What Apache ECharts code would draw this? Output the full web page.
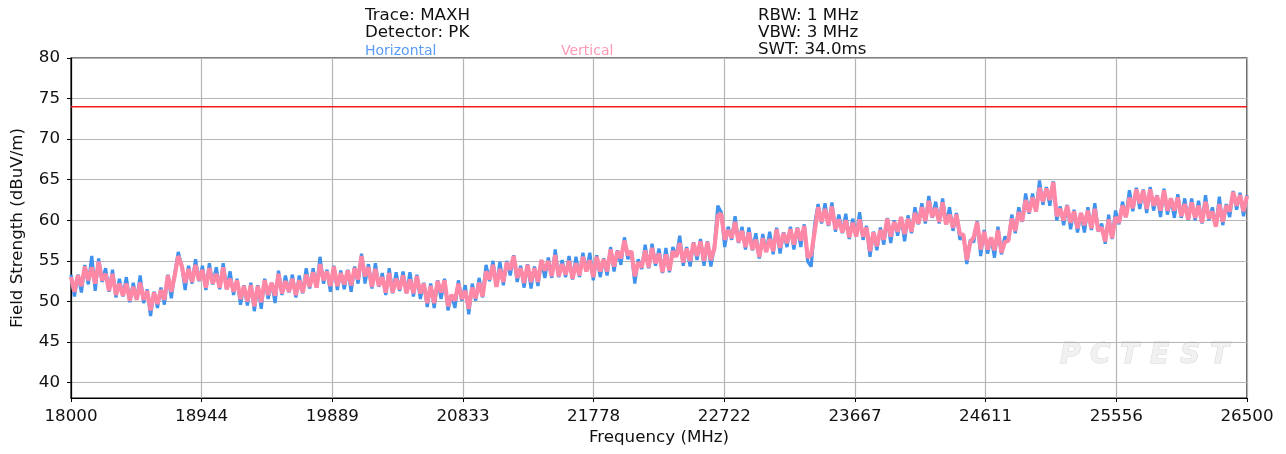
<!DOCTYPE html>
<html>
<head>
<meta charset="utf-8">
<script src="https://cdn.jsdelivr.net/npm/echarts@6/dist/echarts.min.js"></script>
<style>
  html, body { margin: 0; padding: 0; background: #ffffff; }
  #chart { width: 1286px; height: 454px; }
</style>
</head>
<body>
<div id="chart"></div>
<script>
// Sweep settings (MHz)
const startMHz = 18000;
const stopMHz = 26500;
const stepMHz = 25;
const xDivisions = 9;

// Limit line and y range (dBuV/m)
const limitLevel = 74;
const yMin = 38.1;
const yMax = 80;

// Header annotations
const headerLeft = ['Trace: MAXH', 'Detector: PK'];
const headerRight = ['RBW: 1 MHz', 'VBW: 3 MHz', 'SWT: 34.0ms'];
const legendNames = ['Horizontal', 'Vertical'];

// Max-hold peak traces, one value per 25 MHz from 18000 to 26500 MHz
const horizontal = [
  53.3, 50.6, 53.3, 51.1, 54.5, 52.1, 55.6, 51.3, 55.3, 52.4, 54.1, 51.2, 53.9, 50.5, 52.8, 50.6,
  53.0, 49.9, 52.3, 50.2, 53.2, 49.8, 51.5, 48.2, 51.2, 49.2, 51.7, 49.6, 53.3, 50.4, 53.4, 56.1,
  54.4, 51.4, 54.4, 52.2, 55.2, 52.5, 54.4, 51.4, 54.7, 52.1, 54.2, 51.5, 54.7, 51.5, 53.7, 50.8,
  52.8, 49.6, 52.0, 49.5, 52.3, 48.8, 52.0, 49.1, 52.8, 50.3, 52.3, 49.8, 53.8, 50.8, 53.2, 51.1,
  53.3, 50.5, 53.2, 51.0, 54.1, 51.6, 54.1, 51.7, 55.5, 52.2, 53.9, 51.2, 54.4, 51.4, 53.8, 51.5,
  53.9, 51.2, 54.3, 52.2, 55.9, 52.2, 54.6, 51.6, 54.7, 51.8, 53.5, 50.8, 54.1, 51.0, 53.6, 51.3,
  53.7, 51.0, 53.6, 50.6, 53.3, 50.3, 52.3, 49.3, 52.2, 49.2, 52.6, 50.3, 52.8, 48.9, 50.8, 49.2,
  52.6, 50.1, 52.0, 48.4, 52.2, 50.1, 52.9, 50.5, 54.5, 52.5, 55.0, 51.8, 54.9, 52.0, 55.0, 53.2,
  55.7, 52.4, 54.4, 51.7, 54.6, 51.6, 54.3, 51.9, 55.1, 52.9, 55.4, 52.9, 56.4, 53.0, 55.1, 53.0,
  55.6, 52.7, 55.5, 53.0, 56.0, 53.7, 56.0, 52.6, 55.7, 53.0, 55.3, 53.2, 56.7, 53.7, 56.3, 54.5,
  57.9, 55.2, 56.2, 52.2, 55.2, 54.0, 57.0, 54.1, 57.1, 54.4, 56.5, 53.5, 56.6, 53.6, 56.7, 55.5,
  58.1, 54.4, 56.7, 54.3, 57.3, 55.1, 57.7, 54.4, 57.4, 54.3, 56.7, 61.8, 61.0, 56.7, 59.2, 57.6,
  60.5, 57.2, 59.2, 56.4, 59.1, 56.3, 58.4, 55.3, 58.3, 56.1, 58.6, 55.8, 59.1, 55.9, 58.5, 56.7,
  59.2, 56.4, 59.1, 56.7, 59.5, 54.9, 54.3, 59.5, 62.0, 59.6, 62.1, 59.3, 62.2, 58.6, 60.7, 58.4,
  60.8, 57.7, 60.2, 58.0, 61.0, 57.6, 59.3, 55.5, 58.6, 56.3, 59.1, 57.0, 60.3, 57.2, 60.0, 58.1,
  60.4, 57.4, 60.6, 58.4, 61.6, 59.5, 62.1, 59.6, 63.0, 60.3, 62.3, 59.6, 62.7, 59.5, 61.6, 58.7,
  60.9, 57.6, 58.3, 54.6, 57.6, 57.3, 59.9, 55.6, 58.8, 55.9, 57.9, 55.4, 59.2, 55.8, 58.0, 57.4,
  60.7, 58.4, 61.6, 59.8, 63.3, 60.8, 63.3, 61.1, 64.9, 61.9, 64.1, 61.8, 64.8, 60.0, 61.7, 59.4,
  61.9, 58.9, 61.3, 58.5, 60.9, 58.5, 61.6, 58.8, 62.1, 58.6, 59.6, 57.1, 60.7, 57.7, 61.2, 59.5,
  62.3, 60.4, 63.7, 61.1, 64.0, 61.4, 63.8, 60.9, 64.1, 61.2, 63.1, 60.4, 63.9, 60.7, 62.7, 60.3,
  63.2, 60.3, 62.7, 60.0, 62.7, 60.0, 62.4, 59.6, 63.1, 60.0, 61.6, 59.2, 62.9, 59.4, 62.0, 60.4,
  63.6, 61.3, 63.4, 60.5, 63.1
];

const vertical = [
  53.0, 51.2, 53.2, 51.9, 54.3, 52.6, 54.2, 52.2, 54.9, 52.6, 53.4, 51.3, 53.4, 50.8, 52.2, 50.7,
  52.2, 50.1, 51.8, 50.2, 52.3, 50.2, 51.3, 48.9, 51.1, 49.7, 51.4, 50.2, 53.2, 51.2, 53.2, 55.6,
  54.4, 52.3, 54.0, 52.4, 54.5, 52.6, 53.9, 51.7, 54.1, 52.2, 53.4, 51.7, 54.2, 51.5, 52.8, 51.2,
  52.6, 50.3, 51.9, 50.0, 52.0, 49.4, 51.9, 49.9, 52.6, 50.8, 52.3, 50.7, 53.4, 51.0, 52.5, 51.2,
  52.8, 50.8, 52.6, 51.1, 53.3, 51.8, 53.6, 51.7, 54.6, 52.6, 53.7, 51.9, 54.3, 51.9, 53.5, 52.1,
  53.8, 52.0, 54.1, 52.7, 55.6, 53.1, 54.2, 51.8, 54.0, 51.9, 53.0, 51.1, 53.5, 51.1, 52.8, 51.5,
  53.2, 51.0, 52.7, 51.0, 53.1, 51.0, 52.2, 49.8, 51.9, 49.8, 52.5, 51.1, 52.6, 49.4, 50.8, 50.1,
  52.2, 50.3, 51.3, 49.1, 51.7, 50.4, 52.3, 50.6, 53.7, 52.7, 54.5, 51.8, 54.0, 52.4, 54.8, 53.9,
  55.6, 52.9, 54.1, 52.3, 54.5, 52.4, 54.1, 52.4, 55.1, 53.8, 55.0, 53.1, 55.7, 53.1, 54.6, 53.3,
  55.0, 52.8, 54.7, 53.2, 55.5, 53.7, 55.1, 53.0, 55.5, 53.7, 55.2, 53.7, 56.4, 54.3, 56.2, 55.3,
  57.5, 55.7, 56.2, 53.1, 54.8, 54.2, 56.3, 54.2, 56.6, 54.7, 55.9, 53.6, 55.8, 53.8, 56.2, 55.5,
  57.2, 54.8, 56.5, 55.0, 57.2, 55.6, 57.4, 55.0, 57.3, 55.1, 56.5, 60.6, 60.8, 57.6, 58.8, 57.8,
  59.8, 57.3, 58.7, 56.7, 58.5, 56.4, 57.6, 55.5, 57.8, 56.1, 57.7, 56.2, 58.9, 56.6, 58.4, 57.2,
  58.9, 57.0, 59.0, 57.5, 59.3, 55.4, 55.8, 58.6, 61.6, 59.8, 61.4, 59.4, 61.7, 58.9, 60.1, 58.5,
  60.0, 57.9, 59.7, 58.0, 60.1, 58.0, 59.1, 56.2, 58.5, 56.8, 58.8, 57.6, 60.2, 58.0, 59.8, 58.6,
  60.4, 58.3, 60.2, 58.6, 60.9, 59.6, 61.6, 59.9, 62.4, 60.4, 61.5, 59.8, 62.2, 59.5, 60.7, 59.1,
  60.7, 58.3, 58.2, 55.1, 57.3, 57.9, 59.8, 56.4, 58.6, 56.4, 57.9, 56.3, 58.8, 56.0, 57.3, 57.5,
  60.2, 58.7, 61.0, 59.9, 62.5, 61.0, 62.8, 61.1, 64.0, 62.3, 63.9, 62.5, 64.7, 60.5, 61.4, 60.0,
  61.8, 59.7, 61.1, 59.0, 60.9, 59.4, 61.2, 59.0, 61.4, 58.7, 59.1, 57.4, 60.1, 57.8, 60.4, 59.7,
  61.8, 60.4, 62.8, 61.5, 63.8, 62.1, 63.7, 61.4, 63.8, 61.8, 63.0, 61.2, 63.7, 61.2, 62.7, 61.2,
  62.8, 60.5, 62.0, 60.1, 62.2, 60.3, 61.8, 59.7, 62.3, 60.2, 61.1, 59.2, 62.0, 59.8, 61.8, 61.1,
  63.5, 61.8, 63.1, 61.1, 63.0
];

// The x axis runs in units of one grid division so the ticks fall on the nine equal steps.
const divisionMHz = (stopMHz - startMHz) / xDivisions;
const toPoints = arr => arr.map((v, i) => [i * stepMHz / divisionMHz, v]);

const FONT = 'DejaVu Sans';
const textColor = '#111111';
const gridColor = '#b4b4b4';
const blue = '#3f93ee';
const pink = '#ff88a6';

const chart = echarts.init(document.getElementById('chart'), null, { renderer: 'canvas' });

const headerTexts = [];
headerLeft.forEach((t, i) => headerTexts.push({
  type: 'text', x: 365, y: 16 + i * 17,
  style: { text: t, font: '16.7px "' + FONT + '"', fill: textColor, verticalAlign: 'middle' }
}));
headerRight.forEach((t, i) => headerTexts.push({
  type: 'text', x: 758, y: 16 + i * 17,
  style: { text: t, font: '16.7px "' + FONT + '"', fill: textColor, verticalAlign: 'middle' }
}));
headerTexts.push({
  type: 'text', x: 365, y: 51,
  style: { text: legendNames[0], font: '14px "' + FONT + '"', fill: '#5a9cf5', verticalAlign: 'middle' }
});
headerTexts.push({
  type: 'text', x: 561, y: 51,
  style: { text: legendNames[1], font: '14px "' + FONT + '"', fill: '#ff9ab5', verticalAlign: 'middle' }
});

// Faint lab watermark in the lower right of the plot
const watermark = 'PCTEST'.split('').map((ch, i) => ({
  type: 'text', x: 1060 + i * 30, y: 356, z: 0,
  style: {
    text: ch, font: 'italic bold 28px "' + FONT + '"',
    fill: '#f1f1f1', stroke: '#d6d6d6', lineWidth: 1, verticalAlign: 'middle'
  }
}));

const option = {
  animation: false,
  backgroundColor: '#ffffff',
  grid: {
    left: 71, right: 39, top: 58, bottom: 56,
    show: true, borderColor: '#000000', borderWidth: 1.2, backgroundColor: 'transparent'
  },
  xAxis: {
    type: 'value', min: 0, max: xDivisions, interval: 1,
    axisLine: { show: true, onZero: false, lineStyle: { color: '#000000', width: 1.2 } },
    axisTick: { show: true, inside: false, length: 4, lineStyle: { color: '#000000', width: 1 } },
    axisLabel: {
      margin: 10, fontFamily: FONT, fontSize: 16.7, color: textColor,
      formatter: v => String(Math.round(startMHz + v * divisionMHz))
    },
    splitLine: { show: true, lineStyle: { color: gridColor, width: 1.2 } }
  },
  yAxis: {
    type: 'value', min: yMin, max: yMax, splitNumber: 8, minInterval: 5, maxInterval: 5,
    axisLine: { show: true, onZero: false, lineStyle: { color: '#000000', width: 1.2 } },
    axisTick: { show: true, inside: false, length: 4, lineStyle: { color: '#000000', width: 1 } },
    axisLabel: {
      margin: 11, fontFamily: FONT, fontSize: 16.7, color: textColor,
      showMinLabel: false,
      formatter: v => (Math.abs(v % 5) < 1e-6 ? String(v) : '')
    },
    splitLine: { show: true, lineStyle: { color: gridColor, width: 1.2 } }
  },
  series: [
    {
      name: legendNames[0], type: 'line', data: toPoints(horizontal),
      symbol: 'none', sampling: false, z: 3,
      lineStyle: { color: blue, width: 3.2, join: 'bevel' }
    },
    {
      name: legendNames[1], type: 'line', data: toPoints(vertical),
      symbol: 'none', sampling: false, z: 4,
      lineStyle: { color: pink, width: 4.2, join: 'bevel' }
    },
    {
      name: 'Limit', type: 'line',
      data: [[0, limitLevel], [xDivisions, limitLevel]],
      symbol: 'none', z: 5,
      lineStyle: { color: '#f01c1c', width: 1.6 }
    }
  ],
  graphic: [
    ...watermark,
    ...headerTexts,
    {
      type: 'text', x: 18, y: 228, rotation: Math.PI / 2,
      style: {
        text: 'Field Strength (dBuV/m)', font: '16.7px "' + FONT + '"',
        fill: textColor, align: 'center', verticalAlign: 'middle'
      }
    },
    {
      type: 'text', x: 659, y: 438,
      style: {
        text: 'Frequency (MHz)', font: '16.7px "' + FONT + '"',
        fill: textColor, align: 'center', verticalAlign: 'middle'
      }
    }
  ]
};

chart.setOption(option);
</script>
</body>
</html>
